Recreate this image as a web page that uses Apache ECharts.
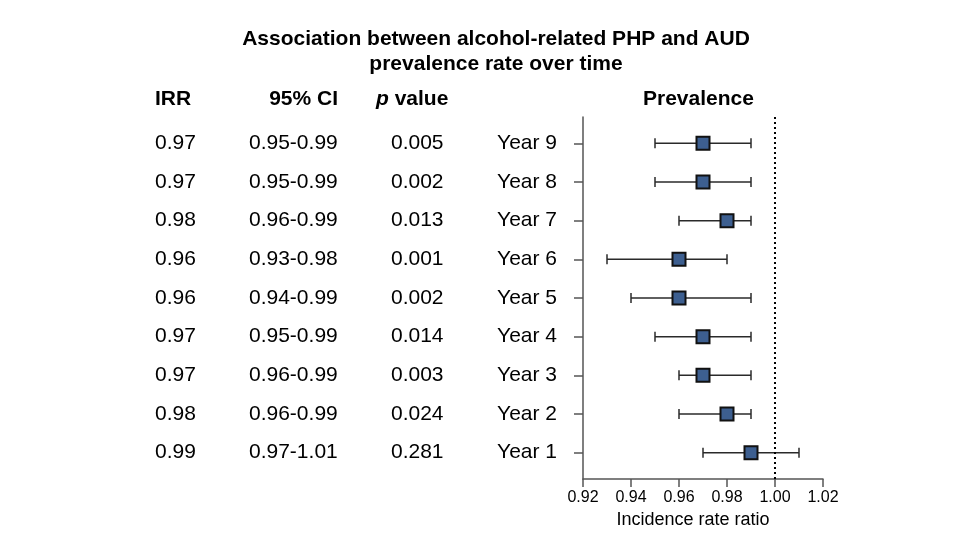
<!DOCTYPE html>
<html><head><meta charset="utf-8">
<script src="https://cdn.jsdelivr.net/npm/echarts@6/dist/echarts.min.js"></script>
<style>html,body{margin:0;padding:0;background:#fff}#c{width:968px;height:545px}</style>
</head><body><div id="c"></div>
<script>
// Rows listed from Year 1 (bottom) to Year 9 (top)
const years   = ['Year 1','Year 2','Year 3','Year 4','Year 5','Year 6','Year 7','Year 8','Year 9'];
const irr     = [0.99, 0.98, 0.97, 0.97, 0.96, 0.96, 0.98, 0.97, 0.97];
const ciLow   = [0.97, 0.96, 0.96, 0.95, 0.94, 0.93, 0.96, 0.95, 0.95];
const ciHigh  = [1.01, 0.99, 0.99, 0.99, 0.99, 0.98, 0.99, 0.99, 0.99];
const pValues = ['0.281','0.024','0.003','0.014','0.002','0.001','0.013','0.002','0.005'];
const xTicks  = [0.92, 0.94, 0.96, 0.98, 1.00, 1.02];
const refLine = 1.00;

const FONT = "'Liberation Sans', Arial, sans-serif";
const FS = 21;
const rowPos = years.map((_, i) => i + 1);
const ciText = ciLow.map((l, i) => l.toFixed(2) + '-' + ciHigh[i].toFixed(2));
const idx = v => Math.round(v) - 1;

function textAxis(offset, fmt, align, margin) {
  return {
    type: 'value', position: 'left', offset: offset, min: 0.32, max: 9.68,
    axisLine: {show: false}, splitLine: {show: false},
    axisTick: {show: false},
    axisLabel: {customValues: rowPos, formatter: fmt, align: align, margin: margin,
      fontFamily: FONT, fontSize: FS, color: '#000'}
  };
}

const chart = echarts.init(document.getElementById('c'), null, {renderer: 'canvas'});
chart.setOption({
  animation: false,
  backgroundColor: '#fff',
  title: {
    text: 'Association between alcohol-related PHP and AUD\nprevalence rate over time',
    left: 491, top: 22, textAlign: 'center',
    textStyle: {fontFamily: FONT, fontSize: 21, fontWeight: 'bold', color: '#000', lineHeight: 25}
  },
  graphic: [
    {type: 'text', left: 155, top: 89, style: {text: 'IRR', font: 'bold 21px ' + FONT, fill: '#000'}},
    {type: 'text', right: 968 - 338, top: 89, style: {text: '95% CI', font: 'bold 21px ' + FONT, fill: '#000'}},
    {type: 'text', left: 376, top: 89, style: {text: '{i|p} value', font: 'bold 21px ' + FONT, fill: '#000',
      rich: {i: {fontStyle: 'italic', fontWeight: 'bold', fontSize: 21, fontFamily: FONT}}}},
    {type: 'text', left: 643, top: 89, style: {text: 'Prevalence', font: 'bold 21px ' + FONT, fill: '#000'}}
  ],
  grid: {left: 583, right: 145, top: 117, bottom: 66},
  xAxis: {
    type: 'value', min: 0.92, max: 1.02, interval: 0.02,
    name: 'Incidence rate ratio', nameLocation: 'middle', nameGap: 30,
    nameTextStyle: {fontFamily: FONT, fontSize: 18, color: '#000', padding: [0, 20, 0, 0]},
    axisLine: {show: true, lineStyle: {color: '#555', width: 1.5}},
    axisTick: {show: true, length: 8, lineStyle: {color: '#555', width: 1.5}},
    axisLabel: {formatter: v => v.toFixed(2), margin: 11, fontFamily: FONT, fontSize: 16, color: '#000',
      customValues: xTicks},
    splitLine: {show: false}
  },
  yAxis: [
    {
      type: 'value', position: 'left', min: 0.32, max: 9.68,
      axisLine: {show: true, lineStyle: {color: '#555', width: 1.5}},
      axisTick: {show: true, customValues: rowPos, length: 9, lineStyle: {color: '#555', width: 1.5}},
      axisLabel: {customValues: rowPos, formatter: v => years[idx(v)], margin: 26,
        fontFamily: FONT, fontSize: FS, color: '#000'},
      splitLine: {show: false}
    },
    textAxis(428, v => irr[idx(v)].toFixed(2), 'left', 0),
    textAxis(334, v => ciText[idx(v)], 'left', 0),
    textAxis(192, v => pValues[idx(v)], 'left', 0)
  ],
  series: [
    {
      type: 'custom', yAxisIndex: 0, z: 2,
      data: years.map((_, i) => [ciLow[i], ciHigh[i], rowPos[i]]),
      encode: {x: [0, 1], y: 2},
      renderItem: function (params, api) {
        const y = api.value(2);
        const p1 = api.coord([api.value(0), y]);
        const p2 = api.coord([api.value(1), y]);
        const h = 5;
        const st = {stroke: '#2a2a2a', lineWidth: 1.5};
        return {type: 'group', children: [
          {type: 'line', shape: {x1: p1[0], y1: p1[1], x2: p2[0], y2: p2[1]}, style: st},
          {type: 'line', shape: {x1: p1[0], y1: p1[1] - h, x2: p1[0], y2: p1[1] + h}, style: st},
          {type: 'line', shape: {x1: p2[0], y1: p2[1] - h, x2: p2[0], y2: p2[1] + h}, style: st}
        ]};
      },
      markLine: {
        silent: true, symbol: 'none', label: {show: false},
        lineStyle: {type: [2, 3], color: '#000', width: 2},
        data: [{xAxis: refLine}]
      }
    },
    {
      type: 'scatter', yAxisIndex: 0, z: 5,
      symbol: 'rect', symbolSize: 13,
      itemStyle: {color: '#3d5f90', borderColor: '#111', borderWidth: 2, opacity: 1},
      data: years.map((_, i) => [irr[i], rowPos[i]])
    }
  ]
});
</script></body></html>
